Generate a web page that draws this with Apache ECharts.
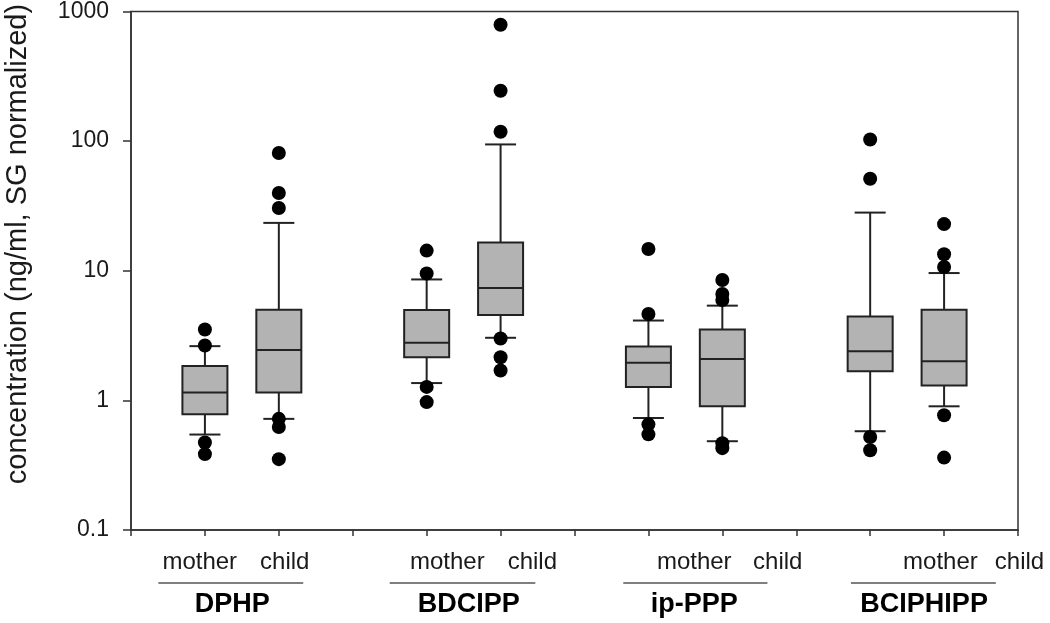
<!DOCTYPE html>
<html>
<head>
<meta charset="utf-8">
<script src="https://cdn.jsdelivr.net/npm/echarts@6/dist/echarts.min.js"></script>
<style>
html,body{margin:0;padding:0;background:#fff;}
#chart{width:1050px;height:623px;}
</style>
</head>
<body>
<div id="chart"></div>
<script>
// ---- data ----
const groups = ['DPHP', 'BDCIPP', 'ip-PPP', 'BCIPHIPP'];
const subgroups = ['mother', 'child'];
// box order: DPHP mother, DPHP child, BDCIPP mother, BDCIPP child, ip-PPP mother, ip-PPP child, BCIPHIPP mother, BCIPHIPP child
const boxMin    = [0.545, 0.72, 1.36, 3.04, 0.731, 0.484, 0.578, 0.90];
const boxQ1     = [0.78, 1.15, 2.15, 4.56, 1.27, 0.90, 1.68, 1.30];
const boxMedian = [1.15, 2.45, 2.78, 7.36, 1.95, 2.09, 2.39, 2.0];
const boxQ3     = [1.84, 5.01, 4.99, 16.5, 2.60, 3.52, 4.43, 5.01];
const boxMax    = [2.62, 23.4, 8.57, 94.3, 4.13, 5.38, 28.1, 9.6];
const outliers = [
  [3.52, 2.65, 0.473, 0.385],
  [80.9, 39.8, 30.5, 0.72, 0.623, 0.352],
  [14.3, 9.53, 1.27, 0.97],
  [790, 245, 118, 3.0, 2.15, 1.70],
  [14.7, 4.64, 0.653, 0.547],
  [8.48, 6.62, 5.95, 0.467, 0.428],
  [103, 51.3, 0.522, 0.412],
  [22.9, 13.4, 10.7, 0.767, 0.362]
];
const yTicks = [0.1, 1, 10, 100, 1000];
const yTitle = 'concentration (ng/ml, SG normalized)';

// ---- layout (not data) ----
const slotOf = (i) => Math.floor(i / 2) * 3 + 1 + (i % 2);
// label anchors in x-axis units, as placed in the reference
const motherLabelX = [0.93, 4.28, 7.62, 10.95];
const childLabelX  = [2.08, 5.43, 8.75, 12.02];
const groupLabelX  = [1.37, 4.57, 7.62, 10.73];
const underlineX   = [[0.37, 2.33], [3.5, 5.47], [6.66, 8.61], [9.74, 11.7]];

const boxData = boxMin.map((v, i) => [slotOf(i), boxMin[i], boxQ1[i], boxMedian[i], boxQ3[i], boxMax[i]]);
const outlierData = [];
outliers.forEach((arr, i) => arr.forEach(v => outlierData.push([slotOf(i), v])));

const chart = echarts.init(document.getElementById('chart'));
const LINE = '#222';
const FONT = 'Liberation Sans, Arial, sans-serif';

function renderBox(params, api) {
  const x = api.value(0);
  const pMin = api.coord([x, api.value(1)]);
  const pQ1 = api.coord([x, api.value(2)]);
  const pMed = api.coord([x, api.value(3)]);
  const pQ3 = api.coord([x, api.value(4)]);
  const pMax = api.coord([x, api.value(5)]);
  const cx = pMin[0];
  const bw = 45, cw = 31;
  const ls = {stroke: LINE, lineWidth: 2};
  return {
    type: 'group',
    children: [
      {type: 'line', shape: {x1: cx, y1: pMin[1], x2: cx, y2: pQ1[1]}, style: ls},
      {type: 'line', shape: {x1: cx, y1: pQ3[1], x2: cx, y2: pMax[1]}, style: ls},
      {type: 'line', shape: {x1: cx - cw / 2, y1: pMin[1], x2: cx + cw / 2, y2: pMin[1]}, style: ls},
      {type: 'line', shape: {x1: cx - cw / 2, y1: pMax[1], x2: cx + cw / 2, y2: pMax[1]}, style: ls},
      {type: 'rect', shape: {x: cx - bw / 2, y: pQ3[1], width: bw, height: pQ1[1] - pQ3[1]}, style: {fill: '#b3b3b3', stroke: LINE, lineWidth: 2}},
      {type: 'line', shape: {x1: cx - bw / 2, y1: pMed[1], x2: cx + bw / 2, y2: pMed[1]}, style: ls}
    ]
  };
}

chart.setOption({
  animation: false,
  grid: {left: 131, right: 32, top: 10, bottom: 93, show: true, borderColor: '#333', borderWidth: 1.5},
  xAxis: {
    type: 'value', min: 0, max: 12, interval: 1,
    axisLine: {show: true, lineStyle: {color: '#333', width: 1.5}},
    axisTick: {show: true, length: 6, lineStyle: {color: '#333', width: 1.5}},
    axisLabel: {show: false},
    splitLine: {show: false}
  },
  yAxis: {
    type: 'log', logBase: 10, min: yTicks[0], max: yTicks[yTicks.length - 1],
    axisLine: {show: true, lineStyle: {color: '#333', width: 1.5}},
    axisTick: {show: true, length: 8, lineStyle: {color: '#333', width: 1.5}},
    minorTick: {show: false},
    axisLabel: {fontFamily: FONT, fontSize: 23, color: '#1a1a1a', margin: 22,
      formatter: v => String(+v.toPrecision(6))},
    splitLine: {show: false}
  },
  series: [
    {type: 'custom', renderItem: renderBox, data: boxData, encode: {x: 0, y: [1, 2, 3, 4, 5]}, z: 2},
    {type: 'scatter', data: outlierData, symbol: 'circle', symbolSize: 14, itemStyle: {color: '#000', opacity: 1}, z: 3}
  ]
});

const graphics = [];
const px = (x) => chart.convertToPixel({gridIndex: 0}, [x, 1])[0];
graphics.push({type: 'text', x: 18, y: 244, rotation: Math.PI / 2,
  style: {text: yTitle, font: '29px ' + FONT, fill: '#1a1a1a', align: 'center', verticalAlign: 'middle'}});
groups.forEach((g, i) => {
  graphics.push({type: 'text', x: px(motherLabelX[i]), y: 562, style: {text: subgroups[0], font: '24px ' + FONT, fill: '#1a1a1a', align: 'center', verticalAlign: 'middle'}});
  graphics.push({type: 'text', x: px(childLabelX[i]), y: 562, style: {text: subgroups[1], font: '24px ' + FONT, fill: '#1a1a1a', align: 'center', verticalAlign: 'middle'}});
  graphics.push({type: 'line', shape: {x1: px(underlineX[i][0]), y1: 583, x2: px(underlineX[i][1]), y2: 583}, style: {stroke: '#555', lineWidth: 1.5}});
  graphics.push({type: 'text', x: px(groupLabelX[i]), y: 605, style: {text: g, font: 'bold 27px ' + FONT, fill: '#000', align: 'center', verticalAlign: 'middle'}});
});
chart.setOption({graphic: graphics});
</script>
</body>
</html>
